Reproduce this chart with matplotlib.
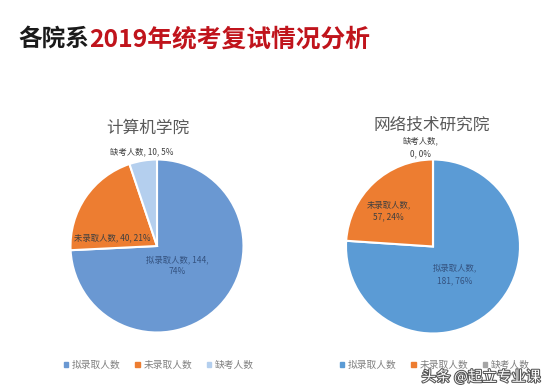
import matplotlib
matplotlib.use("Agg")
import matplotlib.pyplot as plt
import matplotlib.patheffects as pe
from matplotlib.patches import Patch

plt.rcParams['font.family'] = ['Noto Sans CJK SC', 'DejaVu Sans']

categories = ['拟录取人数', '未录取人数', '缺考人数']
cs_values = [144, 40, 10]
cs_pcts = ['74%', '21%', '5%']
net_values = [181, 57, 0]
net_pcts = ['76%', '24%', '0%']
cs_title = '计算机学院'
net_title = '网络技术研究院'

W, H = 553, 391
fig = plt.figure(figsize=(W / 100, H / 100), dpi=100)
fig.patch.set_facecolor('white')

def px_axes(cx, cy, r):
    return fig.add_axes([(cx - r) / W, (H - cy - r) / H, 2 * r / W, 2 * r / H])

label_color = '#404040'
blue_label = '#34527F'
cs_colors = ['#6A98D2', '#ED7D31', '#B4CFEE']
net_colors = ['#5B9BD5', '#ED7D31', '#A5A5A5']

# Left pie
ax1 = px_axes(157, 246, 86.5)
ax1.pie(cs_values, colors=cs_colors, startangle=90, counterclock=False, radius=1,
        wedgeprops=dict(edgecolor='white', linewidth=1.5))
ax1.set_xlim(-1, 1); ax1.set_ylim(-1, 1); ax1.set_aspect('equal')
ax1.axis('off')
ax1.text(-0.18, 1.09, f'{categories[2]}, {cs_values[2]}, {cs_pcts[2]}',
         ha='center', va='center', fontsize=6, color=label_color)
ax1.text(-0.52, 0.09, f'{categories[1]}, {cs_values[1]}, {cs_pcts[1]}',
         ha='center', va='center', fontsize=6, color='#3F3F3F')
ax1.text(0.23, -0.23, f'{categories[0]}, {cs_values[0]},\n{cs_pcts[0]}',
         ha='center', va='center', fontsize=6, color=blue_label, linespacing=1.45)
fig.text(148 / W, 1 - 128 / H, cs_title, ha='center', va='center',
         fontsize=12, color='#595959')

# Right pie
ax2 = px_axes(433, 246.5, 87)
ax2.pie(net_values, colors=net_colors, startangle=90, counterclock=False, radius=1,
        wedgeprops=dict(edgecolor='white', linewidth=1.5))
ax2.set_xlim(-1, 1); ax2.set_ylim(-1, 1); ax2.set_aspect('equal')
ax2.axis('off')
ax2.text(-0.14, 1.14, f'{categories[2]},\n{net_values[2]}, {net_pcts[2]}',
         ha='center', va='center', fontsize=6, color=label_color, linespacing=1.5)
ax2.text(-0.51, 0.41, f'{categories[1]},\n{net_values[1]}, {net_pcts[1]}',
         ha='center', va='center', fontsize=6, color='#3F3F3F', linespacing=1.5)
ax2.text(0.25, -0.32, f'{categories[0]},\n{net_values[0]}, {net_pcts[0]}',
         ha='center', va='center', fontsize=6, color=blue_label, linespacing=1.5)
fig.text(432 / W, 1 - 125 / H, net_title, ha='center', va='center',
         fontsize=12, color='#595959')

# Legends
for cols, cx in ((cs_colors, 159), (net_colors, 435)):
    handles = [Patch(color=c) for c in cols]
    fig.legend(handles, categories, loc='center', bbox_to_anchor=(cx / W, 1 - 365 / H),
               ncol=3, frameon=False, fontsize=7, handlelength=0.45, handleheight=0.45,
               columnspacing=1.5, handletextpad=0.4, labelcolor='#808080',
               borderpad=0, borderaxespad=0)

# Main title
t1 = fig.text(18 / W, 1 - 39 / H, '各院系', ha='left', va='center',
              fontsize=17, fontweight='bold', color='#1A1A1A')
ax_title = fig.add_axes([0, 0, 1, 1]); ax_title.axis('off')
ax_title.annotate('2019年统考复试情况分析', xy=(1, 0.5), xycoords=t1,
                  ha='left', va='center', fontsize=17.8, fontweight='bold',
                  color='#C0141C')

# Watermark
fig.text(541 / W, 1 - 377 / H, '头条 @起立专业课', ha='right', va='center',
         fontsize=10.5, color='white',
         path_effects=[pe.withStroke(linewidth=1.5, foreground='#555555')])

fig.savefig('out.png', dpi=100)
